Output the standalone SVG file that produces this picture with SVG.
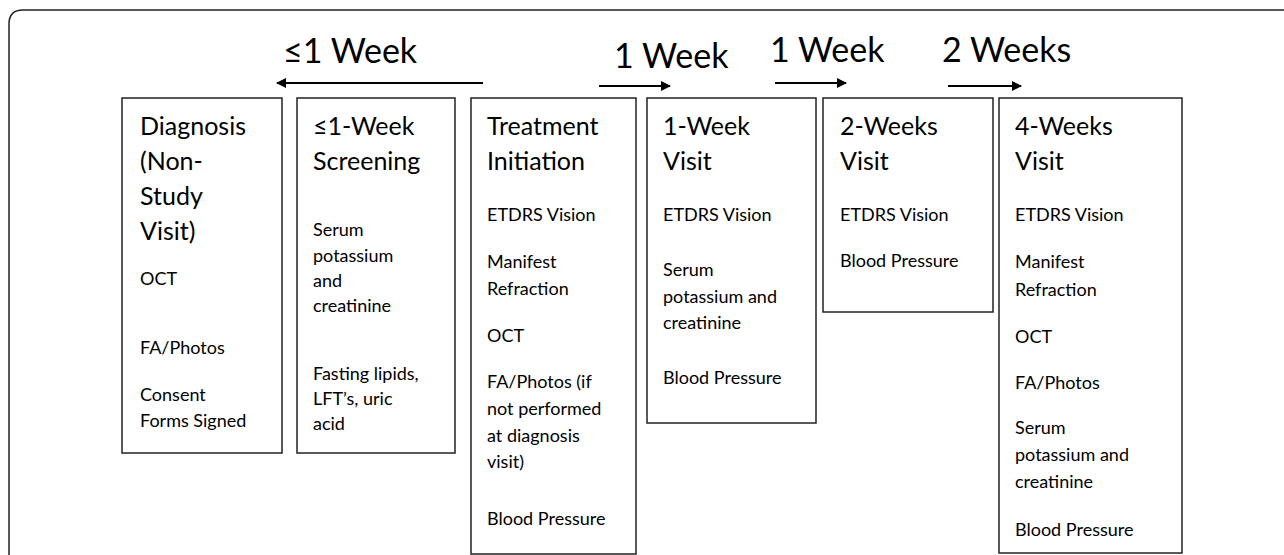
<svg xmlns="http://www.w3.org/2000/svg" width="1284" height="555" viewBox="0 0 1284 555">
<style>
.box{fill:#fff;stroke:#222;stroke-width:1.5}
.t{font-family:Lato,"Open Sans",sans-serif;fill:#000}
.h{font-size:25px}
.b{font-size:18px}
.w{font-size:34px}
.arr{stroke:#000;stroke-width:2;fill:none}
</style>
<defs>
<marker id="ah" viewBox="0 0 10 10" refX="9" refY="5" markerWidth="5.5" markerHeight="5" orient="auto-start-reverse" markerUnits="strokeWidth">
<path d="M0,0 L10,5 L0,10 z" fill="#000"/>
</marker>
</defs>
<rect width="1284" height="555" fill="#fff"/>
<path d="M9,560 L9,24 Q9,10 23,10 L1290,10" fill="none" stroke="#222" stroke-width="1.5"/>
<g id="labels" class="t w">
<text x="283" y="63">≤1 Week</text>
<text x="614" y="68">1 Week</text>
<text x="770" y="62">1 Week</text>
<text x="942" y="62">2 Weeks</text>
</g>
<g id="connectors">
<line class="arr" x1="483" y1="83" x2="277" y2="83" marker-end="url(#ah)"/>
<line class="arr" x1="599" y1="86" x2="670" y2="86" marker-end="url(#ah)"/>
<line class="arr" x1="775" y1="83" x2="846" y2="83" marker-end="url(#ah)"/>
<line class="arr" x1="948" y1="86" x2="1021" y2="86" marker-end="url(#ah)"/>
</g>
<g id="diagnosis">
<rect class="box" x="122" y="98" width="160" height="355"/>
<text class="t h" x="140" y="135">Diagnosis</text>
<text class="t h" x="140" y="170">(Non-</text>
<text class="t h" x="140" y="205">Study</text>
<text class="t h" x="140" y="240">Visit)</text>
<text class="t b" x="140" y="285">OCT</text>
<text class="t b" x="140" y="354">FA/Photos</text>
<text class="t b" x="140" y="401">Consent</text>
<text class="t b" x="140" y="427">Forms Signed</text>
</g>
<g id="screening">
<rect class="box" x="297" y="98" width="158" height="355"/>
<text class="t h" x="313" y="135">≤1-Week</text>
<text class="t h" x="313" y="170">Screening</text>
<text class="t b" x="313" y="236">Serum</text>
<text class="t b" x="313" y="262">potassium</text>
<text class="t b" x="313" y="287">and</text>
<text class="t b" x="313" y="312">creatinine</text>
<text class="t b" x="313" y="380">Fasting lipids,</text>
<text class="t b" x="313" y="405">LFT’s, uric</text>
<text class="t b" x="313" y="430">acid</text>
</g>
<g id="treatment">
<rect class="box" x="471" y="98" width="165" height="456"/>
<text class="t h" x="487" y="135">Treatment</text>
<text class="t h" x="487" y="170">Initiation</text>
<text class="t b" x="487" y="221">ETDRS Vision</text>
<text class="t b" x="487" y="268">Manifest</text>
<text class="t b" x="487" y="295">Refraction</text>
<text class="t b" x="487" y="342">OCT</text>
<text class="t b" x="487" y="388">FA/Photos (if</text>
<text class="t b" x="487" y="415">not performed</text>
<text class="t b" x="487" y="442">at diagnosis</text>
<text class="t b" x="487" y="468">visit)</text>
<text class="t b" x="487" y="525">Blood Pressure</text>
</g>
<g id="week1">
<rect class="box" x="647" y="98" width="169" height="325"/>
<text class="t h" x="663" y="135">1-Week</text>
<text class="t h" x="663" y="170">Visit</text>
<text class="t b" x="663" y="221">ETDRS Vision</text>
<text class="t b" x="663" y="276">Serum</text>
<text class="t b" x="663" y="303">potassium and</text>
<text class="t b" x="663" y="329">creatinine</text>
<text class="t b" x="663" y="384">Blood Pressure</text>
</g>
<g id="week2">
<rect class="box" x="823" y="98" width="170" height="214"/>
<text class="t h" x="840" y="135">2-Weeks</text>
<text class="t h" x="840" y="170">Visit</text>
<text class="t b" x="840" y="221">ETDRS Vision</text>
<text class="t b" x="840" y="267">Blood Pressure</text>
</g>
<g id="week4">
<rect class="box" x="999" y="98" width="183" height="455"/>
<text class="t h" x="1015" y="135">4-Weeks</text>
<text class="t h" x="1015" y="170">Visit</text>
<text class="t b" x="1015" y="221">ETDRS Vision</text>
<text class="t b" x="1015" y="268">Manifest</text>
<text class="t b" x="1015" y="296">Refraction</text>
<text class="t b" x="1015" y="343">OCT</text>
<text class="t b" x="1015" y="389">FA/Photos</text>
<text class="t b" x="1015" y="434">Serum</text>
<text class="t b" x="1015" y="461">potassium and</text>
<text class="t b" x="1015" y="488">creatinine</text>
<text class="t b" x="1015" y="536">Blood Pressure</text>
</g>
</svg>
